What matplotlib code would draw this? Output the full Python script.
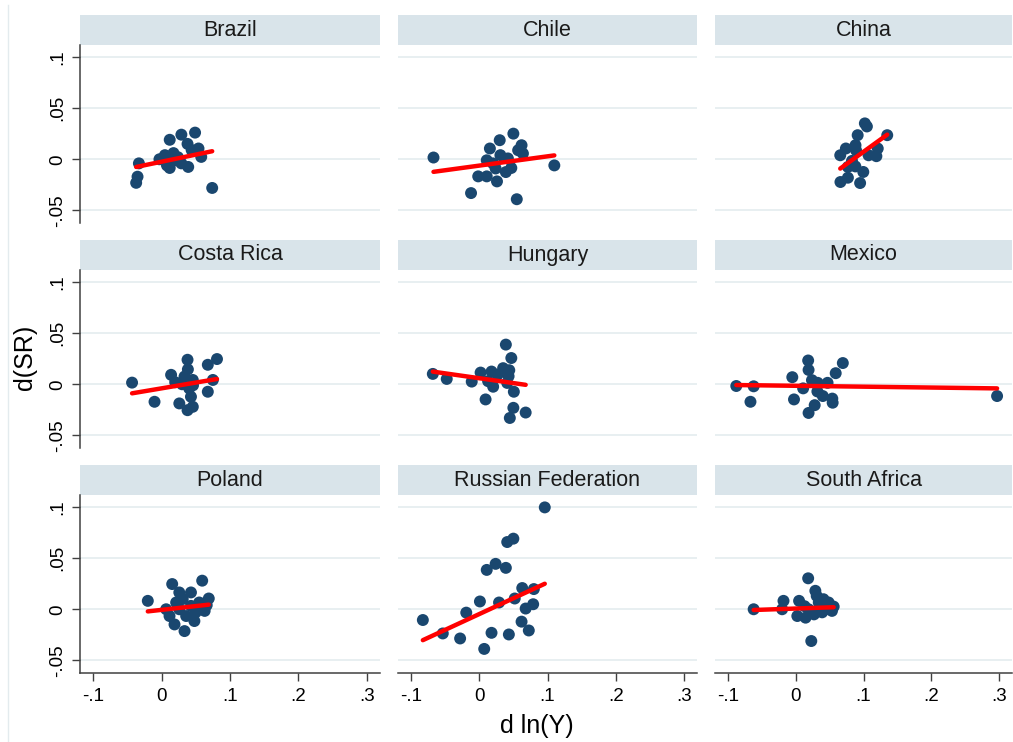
import matplotlib
matplotlib.use("Agg")
import matplotlib.pyplot as plt
from matplotlib.patches import Rectangle
from matplotlib.lines import Line2D
import numpy as np

plt.rcParams['font.family'] = ['Liberation Sans', 'DejaVu Sans']

# ---------------- data ----------------
countries = ["Brazil", "Chile", "China",
             "Costa Rica", "Hungary", "Mexico",
             "Poland", "Russian Federation", "South Africa"]

brazil_x = [-0.033, -0.035, -0.037, -0.003, 0.005, 0.012, 0.012, 0.0175, 0.029, 0.029,
            0.038, 0.039, 0.049, 0.054, 0.058, 0.074, 0.021, 0.024, 0.044, 0.008]
brazil_y = [-0.004, -0.017, -0.023, 0.000, 0.004, 0.019, -0.0085, 0.006, 0.024, -0.004,
            0.015, -0.0075, 0.026, 0.0105, 0.0023, -0.028, -0.001, 0.002, 0.009, -0.006]

chile_x = [-0.067, -0.012, -0.0015, 0.011, 0.011, 0.0156, 0.026, 0.024, 0.030, 0.031,
           0.039, 0.047, 0.050, 0.055, 0.062, 0.064, 0.057, 0.042, 0.110, 0.020]
chile_y = [0.0017, -0.033, -0.0167, -0.0167, -0.001, 0.0105, -0.0216, -0.009, 0.0186, 0.004,
           -0.0125, -0.0085, 0.025, -0.039, 0.0137, 0.0056, 0.0088, 0.0008, -0.006, -0.004]

china_x = [0.102, 0.105, 0.0914, 0.135, 0.0882, 0.074, 0.0657, 0.1075, 0.119, 0.121,
           0.089, 0.077, 0.088, 0.0997, 0.066, 0.077, 0.095, 0.083]
china_y = [0.035, 0.032, 0.0235, 0.0235, 0.0137, 0.0105, 0.0039, 0.0039, 0.003, 0.0105,
           0.0088, -0.0075, -0.007, -0.0124, -0.0222, -0.018, -0.0232, -0.0016]

costa_x = [-0.043, -0.0102, 0.014, 0.038, 0.0385, 0.0336, 0.0457, 0.026, 0.038, 0.0457,
           0.043, 0.0404, 0.0676, 0.0676, 0.081, 0.075, 0.020, 0.030, 0.046]
costa_y = [0.0016, -0.0171, 0.0092, 0.0239, 0.0145, 0.0075, 0.0042, -0.0187, -0.0253, -0.022,
           -0.0122, -0.004, -0.0073, 0.019, 0.0246, 0.0042, 0.002, 0.000, -0.001]

hungary_x = [-0.068, -0.0476, -0.011, 0.002, 0.0093, 0.018, 0.0204, 0.013, 0.027, 0.035,
             0.039, 0.047, 0.044, 0.041, 0.043, 0.0507, 0.050, 0.0448, 0.068]
hungary_y = [0.0101, 0.0052, 0.0026, 0.0114, -0.0148, 0.0124, -0.0024, 0.003, 0.0094, 0.0157,
             0.0387, 0.0256, 0.0137, 0.0013, 0.0078, -0.0073, -0.023, -0.0329, -0.0276]

mexico_x = [-0.0876, -0.062, -0.0667, -0.0025, -0.005, 0.0184, 0.019, 0.011, 0.019, 0.028,
            0.024, 0.032, 0.040, 0.047, 0.0545, 0.054, 0.059, 0.0695, 0.297, 0.0325]
mexico_y = [-0.0017, -0.002, -0.0171, -0.0148, 0.0069, 0.0232, 0.014, -0.004, -0.028, -0.0204,
            0.004, -0.007, -0.0115, 0.0014, -0.018, -0.014, 0.0108, 0.0207, -0.0115, 0.0014]

poland_x = [-0.020, 0.0156, 0.026, 0.043, 0.0594, 0.069, 0.0117, 0.019, 0.0336, 0.048,
            0.063, 0.026, 0.043, 0.055, 0.0214, 0.036, 0.050, 0.0068, 0.031, 0.066]
poland_y = [0.0082, 0.0246, 0.0164, 0.0164, 0.0279, 0.0105, -0.0066, -0.0148, -0.0213, -0.0115,
            -0.0016, 0.000, 0.0033, 0.0066, 0.0066, -0.0066, -0.003, 0.000, 0.010, 0.004]

russia_x = [0.096, 0.041, 0.050, 0.011, 0.024, 0.039, 0.063, 0.080, 0.001, 0.029,
            0.052, 0.068, 0.079, -0.019, -0.0826, 0.062, -0.0534, -0.028, 0.018, 0.0434,
            0.0726, 0.0073]
russia_y = [0.0994, 0.0656, 0.0689, 0.0384, 0.0443, 0.0404, 0.0207, 0.0197, 0.0076, 0.0066,
            0.0105, 0.0007, 0.0049, -0.0033, -0.0105, -0.0121, -0.0236, -0.0285, -0.023, -0.0246,
            -0.0207, -0.0387]

safrica_x = [-0.062, -0.018, -0.020, 0.0184, 0.029, 0.005, 0.0024, 0.0146, 0.019, 0.034,
             0.041, 0.0486, 0.0535, 0.039, 0.027, 0.031, 0.013, 0.056, 0.023, 0.044]
safrica_y = [0.000, 0.0082, 0.000, 0.0302, 0.018, 0.0082, -0.0066, -0.0082, 0.000, 0.0066,
             0.0098, 0.0066, -0.0016, -0.003, -0.005, 0.013, 0.003, 0.0026, -0.031, 0.000]

# linear fit (intercept, slope)
fit_intercept = [-0.0024, -0.0062, -0.0405, -0.0040, 0.0059, -0.0015, -0.0006, -0.0047, 0.0007]
fit_slope = [0.1384, 0.0906, 0.478, 0.1128, -0.0949, -0.00853, 0.0739, 0.3083, 0.0229]

xs = [brazil_x, chile_x, china_x, costa_x, hungary_x, mexico_x, poland_x, russia_x, safrica_x]
ys = [brazil_y, chile_y, china_y, costa_y, hungary_y, mexico_y, poland_y, russia_y, safrica_y]

x_ticks = [-0.1, 0, 0.1, 0.2, 0.3]
x_ticklabels = ["-.1", "0", ".1", ".2", ".3"]
y_ticks = [-0.05, 0, 0.05, 0.1]
y_ticklabels = ["-.05", "0", ".05", ".1"]

# ---------------- layout ----------------
W, H = 1013, 742
fig = plt.figure(figsize=(W / 100, H / 100), dpi=100)
fig.patch.set_facecolor("white")

col_px = [(80, 380), (398, 697), (715, 1012)]
row_px = [(45, 223), (270, 448), (495, 673)]
header_px = 30

dot_color = "#1a476f"
line_color = "#ff0000"
grid_color = "#e6eef0"
header_color = "#d9e4ea"
axis_color = "#404040"

# faint outer border line at the left
fig.add_artist(Line2D([8 / W, 8 / W], [0, 1 - 5 / H], color="#e3ebee", lw=1))

for i, name in enumerate(countries):
    r, c = divmod(i, 3)
    x0, x1 = col_px[c]
    y0, y1 = row_px[r]
    ax = fig.add_axes([x0 / W, 1 - y1 / H, (x1 - x0) / W, (y1 - y0) / H])
    ax.set_xlim(-0.119, 0.319)
    ax.set_ylim(-0.0622, 0.1115)
    ax.set_xticks(x_ticks)
    ax.set_yticks(y_ticks)
    ax.set_facecolor("white")
    for s in ["top", "right", "left", "bottom"]:
        ax.spines[s].set_visible(False)
    ax.grid(axis="y", color=grid_color, lw=1.3, zorder=0)
    ax.grid(axis="x", visible=False)
    ax.set_axisbelow(True)

    if c == 0:
        ax.spines["left"].set_visible(True)
        ax.spines["left"].set_color(axis_color)
        ax.spines["left"].set_linewidth(1.1)
        ax.set_yticklabels(y_ticklabels, rotation=90, va="center", fontsize=13.5)
        ax.tick_params(axis="y", length=6, width=1, color=axis_color, pad=4)
    else:
        ax.tick_params(axis="y", length=0, labelleft=False)
    if r == 2:
        ax.spines["bottom"].set_visible(True)
        ax.spines["bottom"].set_color(axis_color)
        ax.spines["bottom"].set_linewidth(1.1)
        ax.set_xticklabels(x_ticklabels, fontsize=13.5)
        ax.tick_params(axis="x", length=6, width=1, color=axis_color, pad=5)
    else:
        ax.tick_params(axis="x", length=0, labelbottom=False)

    x = np.array(xs[i])
    y = np.array(ys[i])
    ax.scatter(x, y, s=74, color=dot_color, edgecolors="none", zorder=3, clip_on=False)
    fx = np.array([x.min(), x.max()])
    fy = fit_intercept[i] + fit_slope[i] * fx
    ax.plot(fx, fy, color=line_color, lw=3.2, solid_capstyle="round", zorder=4)

    # header strip
    hh = header_px / (y1 - y0)
    ax.add_patch(Rectangle((0, 1), 1, hh, transform=ax.transAxes, facecolor=header_color,
                           edgecolor="none", clip_on=False, zorder=1))
    ax.text(0.5, 1 + hh / 2, name, transform=ax.transAxes, ha="center", va="center",
            fontsize=15.5, color="#1a1a1a")

fig.text(25 / W, 1 - 357 / H, "d(SR)", rotation=90, ha="center", va="center", fontsize=18)
fig.text(537 / W, 1 - 726 / H, "d ln(Y)", ha="center", va="center", fontsize=18)

fig.savefig("out.png", dpi=100, facecolor="white")
